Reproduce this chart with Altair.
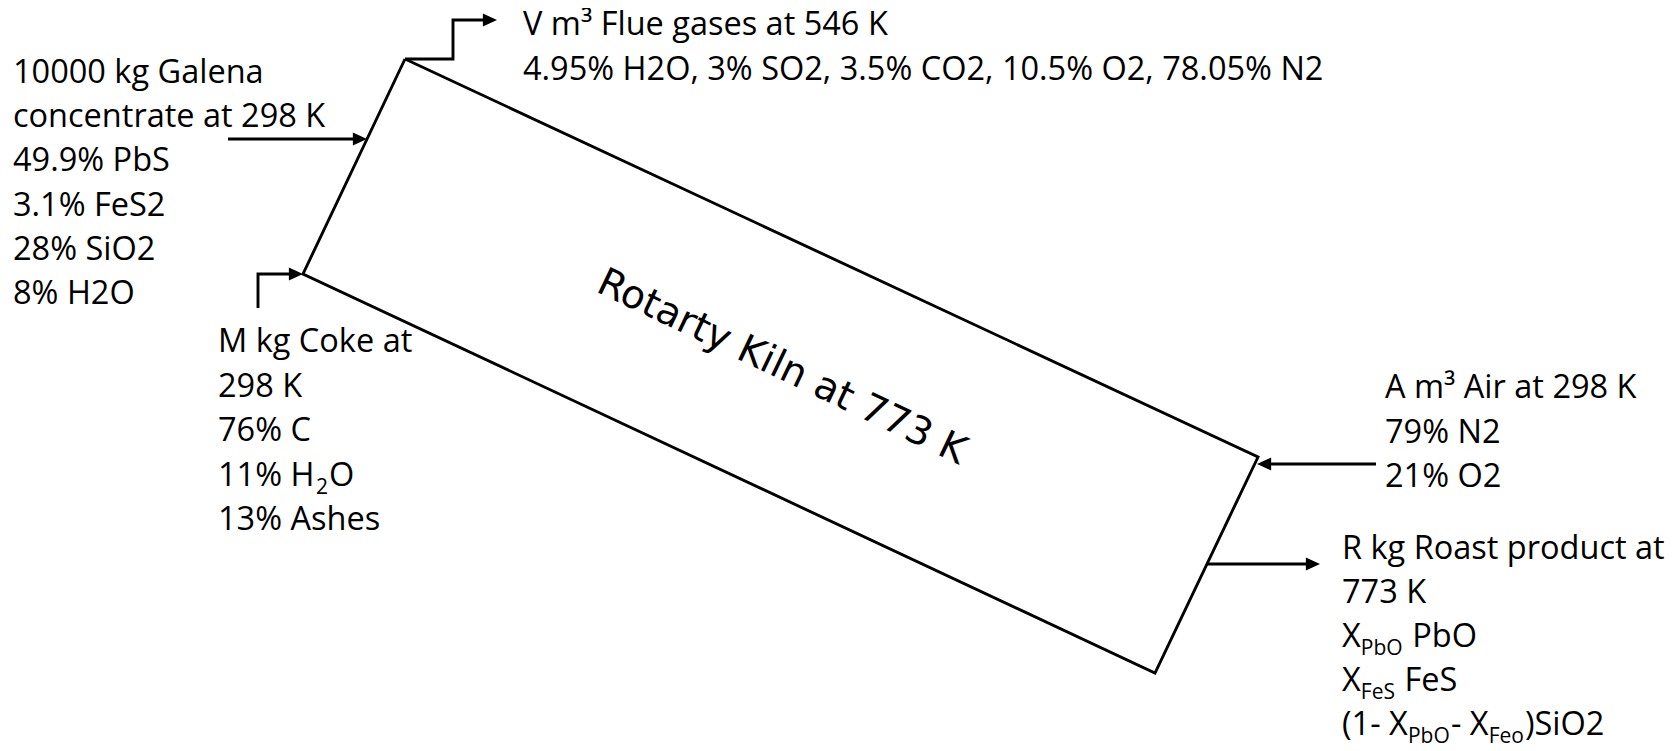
import altair as alt
import pandas as pd

# ---------------- data (reference pixel coordinates) ----------------
# Kiln outline (closed polygon)
kiln_x = [405, 1258, 1155, 303, 405]
kiln_y = [59, 457, 673, 274, 59]

# Stream lines (polylines ending at arrow heads)
flue_x = [405, 453, 453, 489]
flue_y = [59, 59, 20, 20]
galena_x = [228, 359]
galena_y = [139, 139]
coke_x = [258, 258, 295]
coke_y = [308, 274, 274]
air_x = [1376, 1265]
air_y = [464, 464]
roast_x = [1207, 1312]
roast_y = [564, 564]

# Arrow head tips and direction
head_x = [497, 367, 303, 1257, 1320]
head_y = [20, 139, 274, 464, 564]
head_dir = ["r", "r", "r", "l", "r"]

# Text blocks: left x, first baseline, line spacing, lines
galena_lines = ["10000 kg Galena", "concentrate at 298 K", "49.9% PbS",
                "3.1% FeS2", "28% SiO2", "8% H2O"]
galena_pos = (13, 83, 44.2)

flue_lines = ["V m³ Flue gases at 546 K",
              "4.95% H2O, 3% SO2, 3.5% CO2, 10.5% O2, 78.05% N2"]
flue_pos = (523, 35, 45)

coke_lines = ["M kg Coke at", "298 K", "76% C",
              [("11% H", "n"), ("2", "s"), ("O", "n")], "13% Ashes"]
coke_pos = (218, 352, 44.5)

air_lines = ["A m³ Air at 298 K", "79% N2", "21% O2"]
air_pos = (1385, 398, 44.5)

roast_lines = ["R kg Roast product at", "773 K",
               [("X", "n"), ("PbO", "s"), (" PbO", "n")],
               [("X", "n"), ("FeS", "s"), (" FeS", "n")],
               [("(1- X", "n"), ("PbO", "s"), ("- X", "n"), ("Feo", "s"), (")SiO2", "n")]]
roast_pos = (1342, 558.5, 44.2)

kiln_label = "Rotarty Kiln at 773 K"
kiln_label_pos = (782, 367)
kiln_label_angle = 25.5

# ---------------- layout helpers ----------------
W, H = 1661, 735
FS = 32.5        # main font size
SUB = 21         # subscript font size
SUB_DY = 8       # subscript baseline shift

# approximate Open Sans advance widths (em)
adv = {" ": 0.26, "%": 0.84, "H": 0.738, "X": 0.549, "P": 0.604, "b": 0.613,
       "O": 0.781, "F": 0.516, "e": 0.561, "S": 0.551, "o": 0.604, "(": 0.295,
       ")": 0.295, "-": 0.322, "i": 0.253}


def text_width(s, size):
    return sum(adv.get(c, 0.572) for c in s) * size


line_rows = []
for name, xs, ys in [("kiln", kiln_x, kiln_y), ("flue", flue_x, flue_y),
                     ("galena", galena_x, galena_y), ("coke", coke_x, coke_y),
                     ("air", air_x, air_y), ("roast", roast_x, roast_y)]:
    for i, (a, b) in enumerate(zip(xs, ys)):
        line_rows.append({"seg": name, "order": i, "x": a, "y": b})
lines_df = pd.DataFrame(line_rows)

heads_df = pd.DataFrame({"x": head_x, "y": head_y, "dir": head_dir})

text_rows = []
for lines, (x0, y0, dy) in [(galena_lines, galena_pos), (flue_lines, flue_pos),
                            (coke_lines, coke_pos), (air_lines, air_pos),
                            (roast_lines, roast_pos)]:
    for i, ln in enumerate(lines):
        base = y0 + i * dy
        pieces = [(ln, "n")] if isinstance(ln, str) else ln
        cx = x0
        for txt, kind in pieces:
            size = FS if kind == "n" else SUB
            yy = base if kind == "n" else base + SUB_DY
            stripped = txt.lstrip(" ")
            lead = text_width(txt[:len(txt) - len(stripped)], size)
            text_rows.append({"x": cx + lead, "y": yy, "t": stripped, "size": size})
            cx += text_width(txt, size) + 1
text_df = pd.DataFrame(text_rows)

kiln_df = pd.DataFrame({"x": [kiln_label_pos[0]], "y": [kiln_label_pos[1]], "t": [kiln_label]})

xs = alt.Scale(domain=[8, 8 + W], nice=False, zero=False)
ys = alt.Scale(domain=[8, 8 + H], nice=False, zero=False, reverse=True)
X = lambda: alt.X("x:Q", scale=xs, axis=None)
Y = lambda: alt.Y("y:Q", scale=ys, axis=None)

lines = alt.Chart(lines_df).mark_line(color="black", strokeWidth=2.9, strokeJoin="miter").encode(
    x=X(), y=Y(), detail="seg:N", order="order:Q")

path_r = "M0,0L-1,-0.46L-1,0.46Z"
path_l = "M0,0L1,-0.46L1,0.46Z"
heads = alt.Chart(heads_df).mark_point(filled=True, color="black", opacity=1, strokeWidth=0).encode(
    x=X(), y=Y(),
    shape=alt.Shape("dir:N", scale=alt.Scale(domain=["r", "l"], range=[path_r, path_l]), legend=None),
    size=alt.value(800))

texts = alt.Chart(text_df).mark_text(align="left", baseline="alphabetic", font="Open Sans",
                                     color="black").encode(
    x=X(), y=Y(), text="t:N", size=alt.Size("size:Q", scale=None))

kiln_text = alt.Chart(kiln_df).mark_text(align="center", baseline="middle", font="DejaVu Sans",
                                         fontSize=39, angle=kiln_label_angle, color="black").encode(
    x=X(), y=Y(), text="t:N")

chart = alt.layer(lines, heads, texts, kiln_text).properties(
    width=W, height=H, padding=0, autosize=alt.AutoSizeParams(type="none"),
    background="white"
).configure_view(stroke=None)

chart.save("out.html", embed_options={"renderer": "svg", "actions": False})
